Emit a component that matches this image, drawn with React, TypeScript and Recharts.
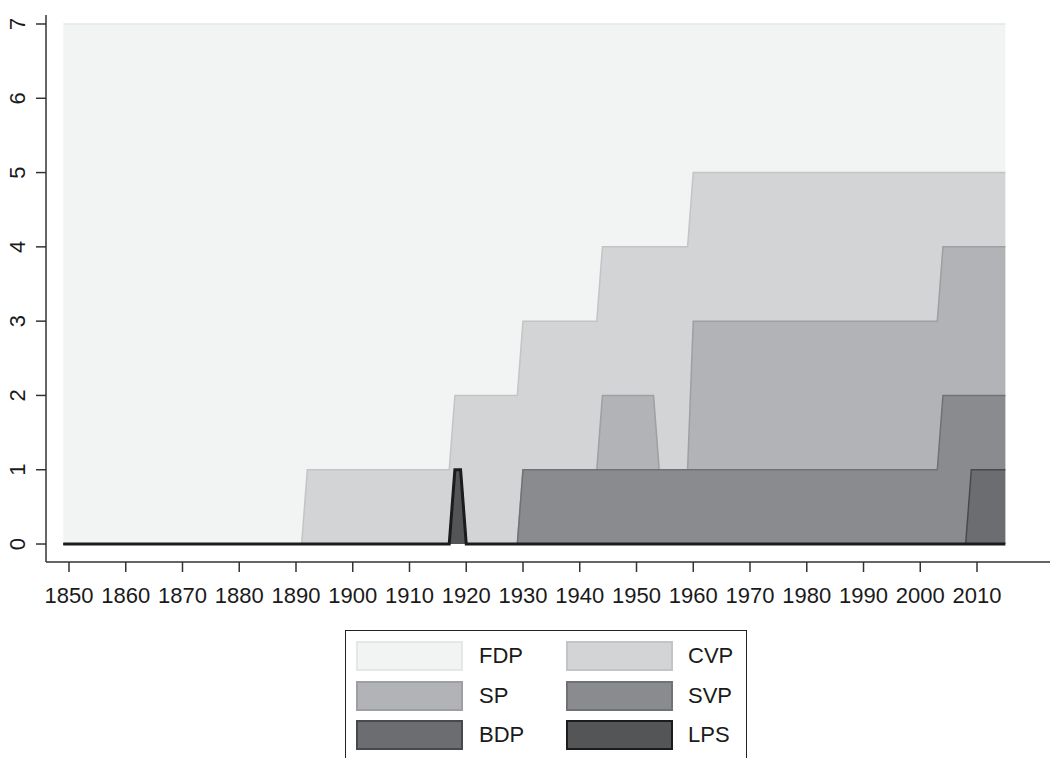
import React from 'react';
import { AreaChart, Area, XAxis, YAxis } from 'recharts';

// years where the seat distribution changes; values are linear between them
const years = [1849, 1891, 1892, 1917, 1918, 1919, 1920, 1929, 1930, 1943, 1944, 1953, 1954, 1959, 1960, 2003, 2004, 2008, 2009, 2015];
const fdp = [7, 7, 6, 6, 5, 5, 5, 5, 4, 4, 3, 3, 3, 3, 2, 2, 2, 2, 2, 2];
const cvp = [0, 0, 1, 1, 1, 1, 2, 2, 2, 2, 2, 2, 3, 3, 2, 2, 1, 1, 1, 1];
const sp = [0, 0, 0, 0, 0, 0, 0, 0, 0, 0, 1, 1, 0, 0, 2, 2, 2, 2, 2, 2];
const svp = [0, 0, 0, 0, 0, 0, 0, 0, 1, 1, 1, 1, 1, 1, 1, 1, 2, 2, 1, 1];
const bdp = [0, 0, 0, 0, 0, 0, 0, 0, 0, 0, 0, 0, 0, 0, 0, 0, 0, 0, 1, 1];
const lps = [0, 0, 0, 0, 1, 1, 0, 0, 0, 0, 0, 0, 0, 0, 0, 0, 0, 0, 0, 0];

const xTicks = [1850, 1860, 1870, 1880, 1890, 1900, 1910, 1920, 1930, 1940, 1950, 1960, 1970, 1980, 1990, 2000, 2010];
const yTicks = [0, 1, 2, 3, 4, 5, 6, 7];

const data = years.map((year, i) => ({
  year,
  FDP: fdp[i],
  CVP: cvp[i],
  SP: sp[i],
  SVP: svp[i],
  BDP: bdp[i],
  LPS: lps[i],
}));

// drawn top layer first, stack reversed so LPS sits at the bottom
const parties = [
  { key: 'FDP', fill: '#f2f3f3', stroke: '#e5e6e6', width: 1.5 },
  { key: 'CVP', fill: '#d3d4d6', stroke: '#c3c4c6', width: 1.5 },
  { key: 'SP', fill: '#b2b3b6', stroke: '#9e9fa2', width: 1.5 },
  { key: 'SVP', fill: '#8a8b8e', stroke: '#717275', width: 1.5 },
  { key: 'BDP', fill: '#6c6d70', stroke: '#48494c', width: 1.5 },
  { key: 'LPS', fill: '#545557', stroke: '#1c1c1c', width: 3 },
];

const legendRows = [
  ['FDP', 'CVP'],
  ['SP', 'SVP'],
  ['BDP', 'LPS'],
];

const FONT = '"Liberation Sans", Arial, Helvetica, sans-serif';

const XTick = (props: any) => {
  const { x, y, payload } = props;
  return (
    <text x={x} y={y} dy={29} textAnchor="middle" fontSize={22} fontFamily={FONT} fill="#1a1a1a">
      {payload.value}
    </text>
  );
};

const YTick = (props: any) => {
  const { x, y, payload } = props;
  const px = x - 9;
  return (
    <text
      x={px}
      y={y}
      transform={`rotate(-90 ${px} ${y})`}
      textAnchor="middle"
      fontSize={22}
      fontFamily={FONT}
      fill="#1a1a1a"
    >
      {payload.value}
    </text>
  );
};

const LegendBox: React.FC = () => (
  <div
    style={{
      position: 'absolute',
      left: 345,
      top: 630,
      width: 402,
      height: 140,
      border: '1.5px solid #222',
      boxSizing: 'border-box',
      fontFamily: FONT,
      fontSize: 22,
      color: '#1a1a1a',
    }}
  >
    {legendRows.map((row, r) =>
      row.map((name, c) => {
        const p = parties.find((q) => q.key === name)!;
        return (
          <React.Fragment key={name}>
            <div
              style={{
                position: 'absolute',
                left: 10 + c * 210,
                top: 10 + r * 39.5,
                width: 107,
                height: 30,
                background: p.fill,
                border: `2px solid ${p.stroke}`,
                boxSizing: 'border-box',
              }}
            />
            <div
              style={{
                position: 'absolute',
                left: 133 + c * 209,
                top: 10 + r * 39.5,
                height: 30,
                lineHeight: '30px',
              }}
            >
              {name}
            </div>
          </React.Fragment>
        );
      })
    )}
  </div>
);

const App: React.FC = () => (
  <div style={{ position: 'fixed', left: 0, top: 0, width: 1052, height: 758, background: '#fff', overflow: 'hidden' }}>
    <AreaChart
      width={1052}
      height={758}
      data={data}
      margin={{ top: 15, right: 2, left: 0, bottom: 0 }}
      reverseStackOrder
    >
      <XAxis
        dataKey="year"
        type="number"
        domain={[1845.95, 2022.86]}
        ticks={xTicks}
        tick={<XTick />}
        tickSize={10}
        height={196}
        axisLine={{ stroke: '#333', strokeWidth: 1.5 }}
        tickLine={{ stroke: '#333', strokeWidth: 1.5 }}
        allowDataOverflow
      />
      <YAxis
        type="number"
        domain={[-0.242, 7.121]}
        ticks={yTicks}
        tick={<YTick />}
        tickSize={10}
        width={46}
        axisLine={{ stroke: '#333', strokeWidth: 1.5 }}
        tickLine={{ stroke: '#333', strokeWidth: 1.5 }}
        allowDataOverflow
      />
      {parties.map((p) => (
        <Area
          key={p.key}
          type="linear"
          dataKey={p.key}
          stackId="seats"
          fill={p.fill}
          fillOpacity={1}
          stroke={p.stroke}
          strokeWidth={p.width}
          isAnimationActive={false}
          dot={false}
          activeDot={false}
        />
      ))}
    </AreaChart>
    <LegendBox />
  </div>
);

export default App;
